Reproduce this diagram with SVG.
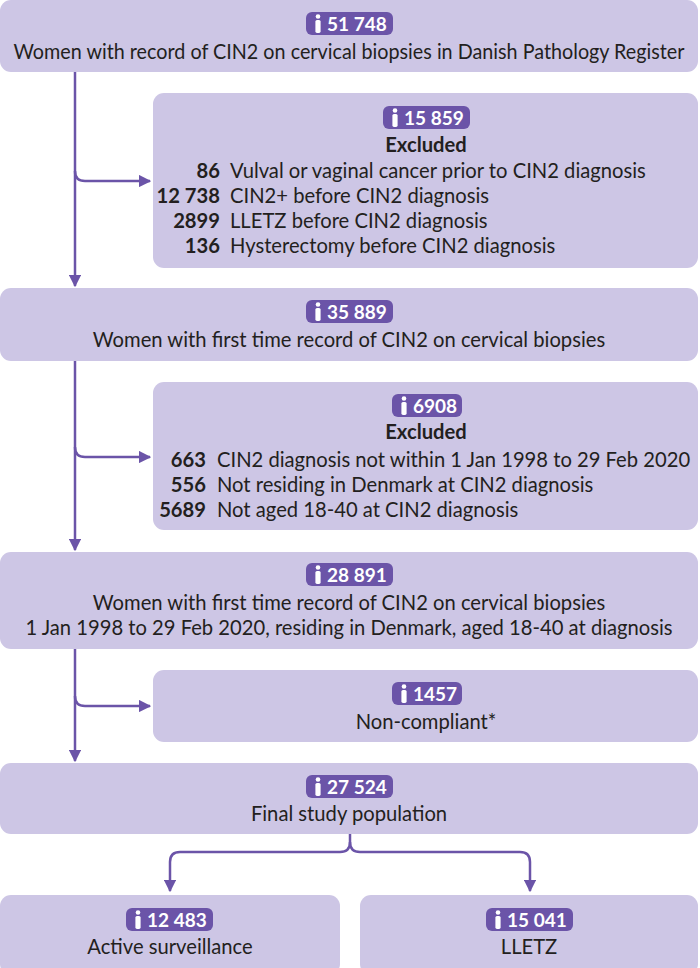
<svg xmlns="http://www.w3.org/2000/svg" width="700" height="968" viewBox="0 0 700 968">
<defs>
<style>
.box{fill:#cdc6e5}
.badge{fill:#6b54a8}
.bt{font-family:Lato,"Liberation Sans",sans-serif;font-weight:bold;font-size:19px;fill:#fff}
.t{font-family:Lato,"Liberation Sans",sans-serif;font-size:20.2px;fill:#231f20}
.tb{font-family:Lato,"Liberation Sans",sans-serif;font-size:20.2px;font-weight:bold;fill:#231f20}
.c{text-anchor:middle}
.r{text-anchor:end}
.ln{fill:none;stroke:#6b54a8;stroke-width:2.5}
</style>
<marker id="ah" viewBox="0 0 10 10" refX="9" refY="5" markerWidth="5" markerHeight="5" orient="auto" markerUnits="strokeWidth"><path d="M0,0 L10,5 L0,10 Z" fill="#6b54a8"/></marker>
<g id="person"><circle cx="0" cy="-7" r="2.3" fill="#fff"/><rect x="-2.6" y="-3.6" width="5.2" height="13" rx="1.6" fill="#fff"/></g>
</defs>
<g id="connectors">
<path class="ln" d="M75,72 V286" marker-end="url(#ah)"/>
<path class="ln" d="M75,171 Q75,181 85,181 H150" marker-end="url(#ah)"/>
<path class="ln" d="M75,361 V550" marker-end="url(#ah)"/>
<path class="ln" d="M75,447 Q75,457 85,457 H150" marker-end="url(#ah)"/>
<path class="ln" d="M75,649 V761" marker-end="url(#ah)"/>
<path class="ln" d="M75,696 Q75,706 85,706 H150" marker-end="url(#ah)"/>
<path class="ln" d="M350,834 V842 Q350,852 340,852 H180 Q170,852 170,862 V891" marker-end="url(#ah)"/>
<path class="ln" d="M350,842 Q350,852 360,852 H520 Q530,852 530,862 V891" marker-end="url(#ah)"/>
</g>
<g id="n1">
<rect class="box" x="0" y="0" width="698" height="72" rx="11"/>
<rect class="badge" x="306" y="12" width="87" height="23" rx="6"/>
<use href="#person" x="318" y="23.5"/>
<text class="bt" x="327" y="30.5">51 748</text>
<text class="t c" x="349" y="59" textLength="671" lengthAdjust="spacingAndGlyphs">Women with record of CIN2 on cervical biopsies in Danish Pathology Register</text>
</g>
<g id="n2">
<rect class="box" x="153" y="93" width="545" height="175" rx="11"/>
<rect class="badge" x="383" y="106" width="87" height="23" rx="6"/>
<use href="#person" x="395" y="117.5"/>
<text class="bt" x="404" y="124.5">15 859</text>
<text class="tb c" x="426" y="152">Excluded</text>
<text class="tb r" x="220" y="178">86</text><text class="t" x="230" y="178">Vulval or vaginal cancer prior to CIN2 diagnosis</text>
<text class="tb r" x="220" y="203">12 738</text><text class="t" x="230" y="203">CIN2+ before CIN2 diagnosis</text>
<text class="tb r" x="220" y="228">2899</text><text class="t" x="230" y="228">LLETZ before CIN2 diagnosis</text>
<text class="tb r" x="220" y="253">136</text><text class="t" x="230" y="253">Hysterectomy before CIN2 diagnosis</text>
</g>
<g id="n3">
<rect class="box" x="0" y="288" width="698" height="73" rx="11"/>
<rect class="badge" x="306" y="300" width="87" height="23" rx="6"/>
<use href="#person" x="318" y="311.5"/>
<text class="bt" x="327" y="318.5">35 889</text>
<text class="t c" x="349" y="347">Women with first time record of CIN2 on cervical biopsies</text>
</g>
<g id="n4">
<rect class="box" x="153" y="382" width="545" height="148" rx="11"/>
<rect class="badge" x="392" y="394" width="70" height="23" rx="6"/>
<use href="#person" x="404" y="405.5"/>
<text class="bt" x="413" y="412.5">6908</text>
<text class="tb c" x="426" y="439">Excluded</text>
<text class="tb r" x="206" y="467">663</text><text class="t" x="217" y="467">CIN2 diagnosis not within 1 Jan 1998 to 29 Feb 2020</text>
<text class="tb r" x="206" y="492">556</text><text class="t" x="217" y="492">Not residing in Denmark at CIN2 diagnosis</text>
<text class="tb r" x="206" y="517">5689</text><text class="t" x="217" y="517">Not aged 18-40 at CIN2 diagnosis</text>
</g>
<g id="n5">
<rect class="box" x="0" y="552" width="698" height="97" rx="11"/>
<rect class="badge" x="306" y="563" width="87" height="23" rx="6"/>
<use href="#person" x="318" y="574.5"/>
<text class="bt" x="327" y="581.5">28 891</text>
<text class="t c" x="349" y="610">Women with first time record of CIN2 on cervical biopsies</text>
<text class="t c" x="349" y="635">1 Jan 1998 to 29 Feb 2020, residing in Denmark, aged 18-40 at diagnosis</text>
</g>
<g id="n6">
<rect class="box" x="153" y="670" width="545" height="72" rx="11"/>
<rect class="badge" x="392" y="682" width="70" height="23" rx="6"/>
<use href="#person" x="404" y="693.5"/>
<text class="bt" x="413" y="700.5">1457</text>
<text class="t c" x="426" y="729">Non-compliant*</text>
</g>
<g id="n7">
<rect class="box" x="0" y="763" width="698" height="71" rx="11"/>
<rect class="badge" x="306" y="775" width="87" height="23" rx="6"/>
<use href="#person" x="318" y="786.5"/>
<text class="bt" x="327" y="793.5">27 524</text>
<text class="t c" x="349" y="821">Final study population</text>
</g>
<g id="n8">
<rect class="box" x="0" y="895" width="340" height="80" rx="11"/>
<rect class="badge" x="126" y="908" width="87" height="23" rx="6"/>
<use href="#person" x="138" y="919.5"/>
<text class="bt" x="147" y="926.5">12 483</text>
<text class="t c" x="170" y="954">Active surveillance</text>
</g>
<g id="n9">
<rect class="box" x="360" y="895" width="338" height="80" rx="11"/>
<rect class="badge" x="486" y="908" width="87" height="23" rx="6"/>
<use href="#person" x="498" y="919.5"/>
<text class="bt" x="507" y="926.5">15 041</text>
<text class="t c" x="529" y="954">LLETZ</text>
</g>
</svg>
